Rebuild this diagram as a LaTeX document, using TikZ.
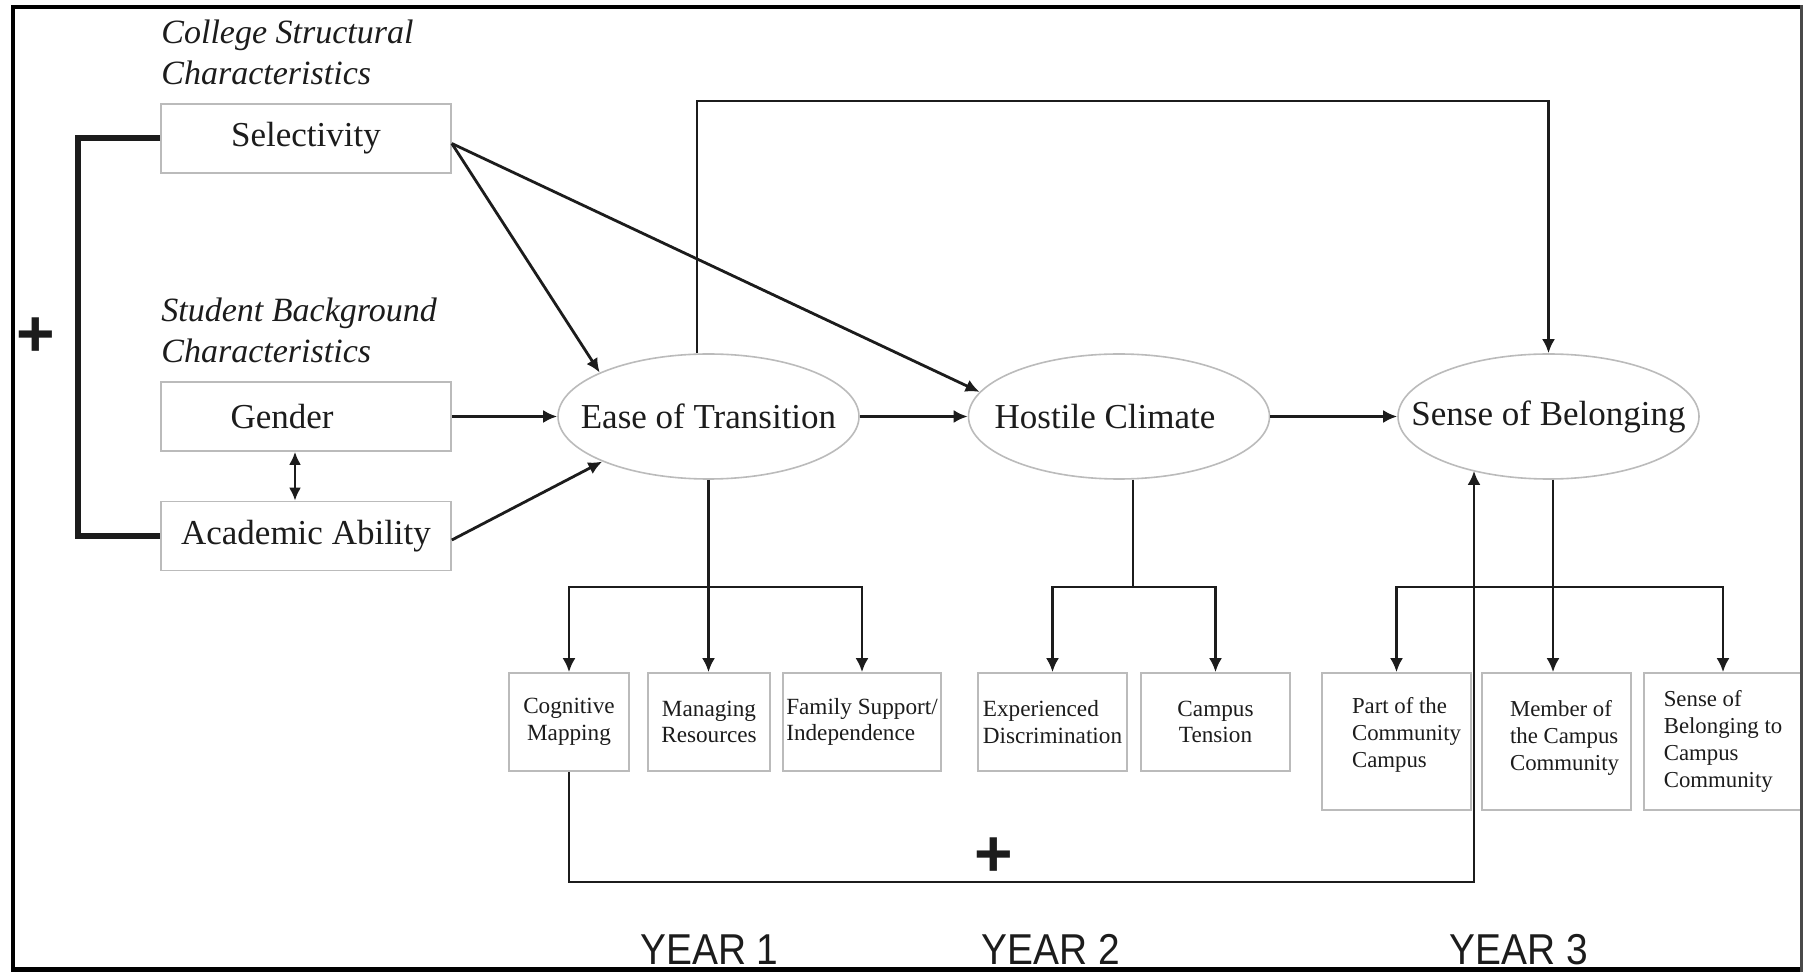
\documentclass[tikz,border=0pt]{standalone}
\usepackage{fontspec}
\setmainfont{Liberation Serif}
\newfontfamily\yearfont{Liberation Sans}
\usetikzlibrary{arrows.meta,shapes.geometric}
\definecolor{boxgray}{HTML}{BBBBBB}
\definecolor{ink}{HTML}{1C1C1C}
\begin{document}
\begin{tikzpicture}[x=0.5pt,y=-0.5pt,
 gbox/.style={draw=boxgray,line width=0.8pt,inner sep=0pt,text=ink},
 bigbox/.style={gbox,minimum width=145pt,minimum height=34.5pt,font=\fontsize{17.5}{20}\selectfont},
 sbox/.style={gbox,minimum height=49pt,align=center,font=\fontsize{11.6}{13.25}\selectfont},
 tbox/.style={gbox,minimum width=74.5pt,minimum height=68.5pt,font=\fontsize{11.4}{13.6}\selectfont},
 oval/.style={ellipse,draw=boxgray,line width=0.8pt,inner sep=0pt,minimum width=150.5pt,minimum height=62.5pt,text=ink,font=\fontsize{17.5}{20}\selectfont},
 head/.style={inner sep=0pt,align=left,text=ink,font=\itshape\fontsize{17}{20.5}\selectfont},
 conn/.style={draw=ink,line width=1.4pt},
 arr/.style={conn,-{Latex[length=7pt,width=6.5pt]}},
 biarr/.style={conn,{Latex[length=6.5pt,width=6pt]}-{Latex[length=6.5pt,width=6pt]}},
 brk/.style={draw=ink,line width=3pt,line join=miter},
 plus/.style={inner sep=0pt,text=ink,font=\yearfont\bfseries\fontsize{33}{33}\selectfont},
 year/.style={inner sep=0pt,anchor=base,text=ink,font=\yearfont\fontsize{21.6}{24}\selectfont}
]
\useasboundingbox (0,0) rectangle (1804,972);
\fill[white] (0,0) rectangle (1804,972);

% headings
\node[head,anchor=west] (csc) at (161,52) {College Structural\\Characteristics};
\node[head,anchor=west] (sbc) at (161,330.5) {Student Background\\Characteristics};

% left boxes
\node[bigbox] (sel) at (306,138.5) {Selectivity};
\node[bigbox] (gen) at (306,416.5) {\hspace*{-24pt}Gender};
\node[bigbox] (aa) at (306,536) {Academic Ability};

% ellipses
\node[oval] (ease) at (708.5,416.5) {\makebox[0pt]{Ease of Transition}};
\node[oval] (hc) at (1119,416.5) {\makebox[0pt]{\hspace*{-14pt}Hostile Climate}};
\node[oval] (sob) at (1548.5,416.5) {\makebox[0pt]{Sense of Belonging}};

% year 1 indicators
\node[sbox,minimum width=60.25pt] (cog) at (569,722) {Cognitive\\Mapping};
\node[sbox,minimum width=61pt] (man) at (709,722) {Managing\\Resources};
\node[sbox,minimum width=79pt,align=left] (fam) at (862,722) {Family Support/\\Independence};
% year 2 indicators
\node[sbox,minimum width=74.5pt,align=left] (exp) at (1052.5,722) {Experienced\\Discrimination};
\node[sbox,minimum width=74.5pt] (ct) at (1215.5,722) {Campus\\Tension};
% year 3 indicators
\node[tbox] (part) at (1396.5,741.5) {\begin{tabular}{@{\hspace{10pt}}l@{}}Part of the\\Community\\Campus\\[6.5pt]\end{tabular}};
\node[tbox] (mem) at (1556.5,741.5) {\begin{tabular}{@{\hspace{8pt}}l@{}}Member of\\the Campus\\Community\\[3.5pt]\end{tabular}};
\node[tbox,minimum width=79pt,align=left] (tsob) at (1723,741.5) {Sense of\\Belonging to\\Campus\\Community};

% plus signs
\node[plus] (p1) at (35.5,337) {+};
\node[plus] (p2) at (994,857.5) {+};

% years
\node[year] (y1) at (709.5,964) {\scalebox{0.9}[1]{YEAR 1}};
\node[year] (y2) at (1051,964) {\scalebox{0.9}[1]{YEAR 2}};
\node[year] (y3) at (1518.5,964) {\scalebox{0.9}[1]{YEAR 3}};

% bracket
\draw[brk] (sel.west) -- ++(-82,0) |- (aa.west);
% connectors
\draw[biarr] ([xshift=-5.5pt]gen.south) -- ([xshift=-5.5pt]aa.north);
\draw[arr] (gen.east) -- (ease.west);
\draw[arr] ([yshift=-2.5pt]sel.east) -- (ease.158);
\draw[arr] ([yshift=-2.5pt]sel.east) -- (hc.170);
\draw[arr] ([yshift=-2pt]aa.east) -- (ease.203);
\draw[arr] (ease.east) -- (hc.west);
\draw[arr] (hc.east) -- (sob.west);

\coordinate (tl) at (697,101);
\draw[arr] (tl |- ease.north) -- (tl) -| (sob.north);

\coordinate (b1) at (708.5,587);
\draw[conn] (ease.south) -- (b1);
\draw[arr] (b1) -| (cog.north);
\draw[arr] (b1) -| (fam.north);
\draw[arr] (b1) -- (b1 |- man.north);

\coordinate (b2) at (1133,587);
\draw[conn] (b2 |- hc.south) -- (b2);
\draw[arr] (b2) -| (exp.north);
\draw[arr] (b2) -| (ct.north);

\coordinate (b3) at (1553,587);
\draw[conn] (b3 |- sob.south) -- (b3);
\draw[arr] (b3) -| (part.north);
\draw[arr] (b3) -| (tsob.north);
\draw[arr] (b3) -- (b3 |- mem.north);

\coordinate (lp) at (1474,882);
\draw[arr] (cog.south) |- (lp) -- (lp |- sob.215);

% frame
\fill[black] (11,5) rectangle (1803,9);
\fill[black] (11,5) rectangle (15,972);
\fill[black] (11,967) rectangle (1803,972);
\fill[ink!80] (1800,5) rectangle (1803,972);
\end{tikzpicture}
\end{document}
